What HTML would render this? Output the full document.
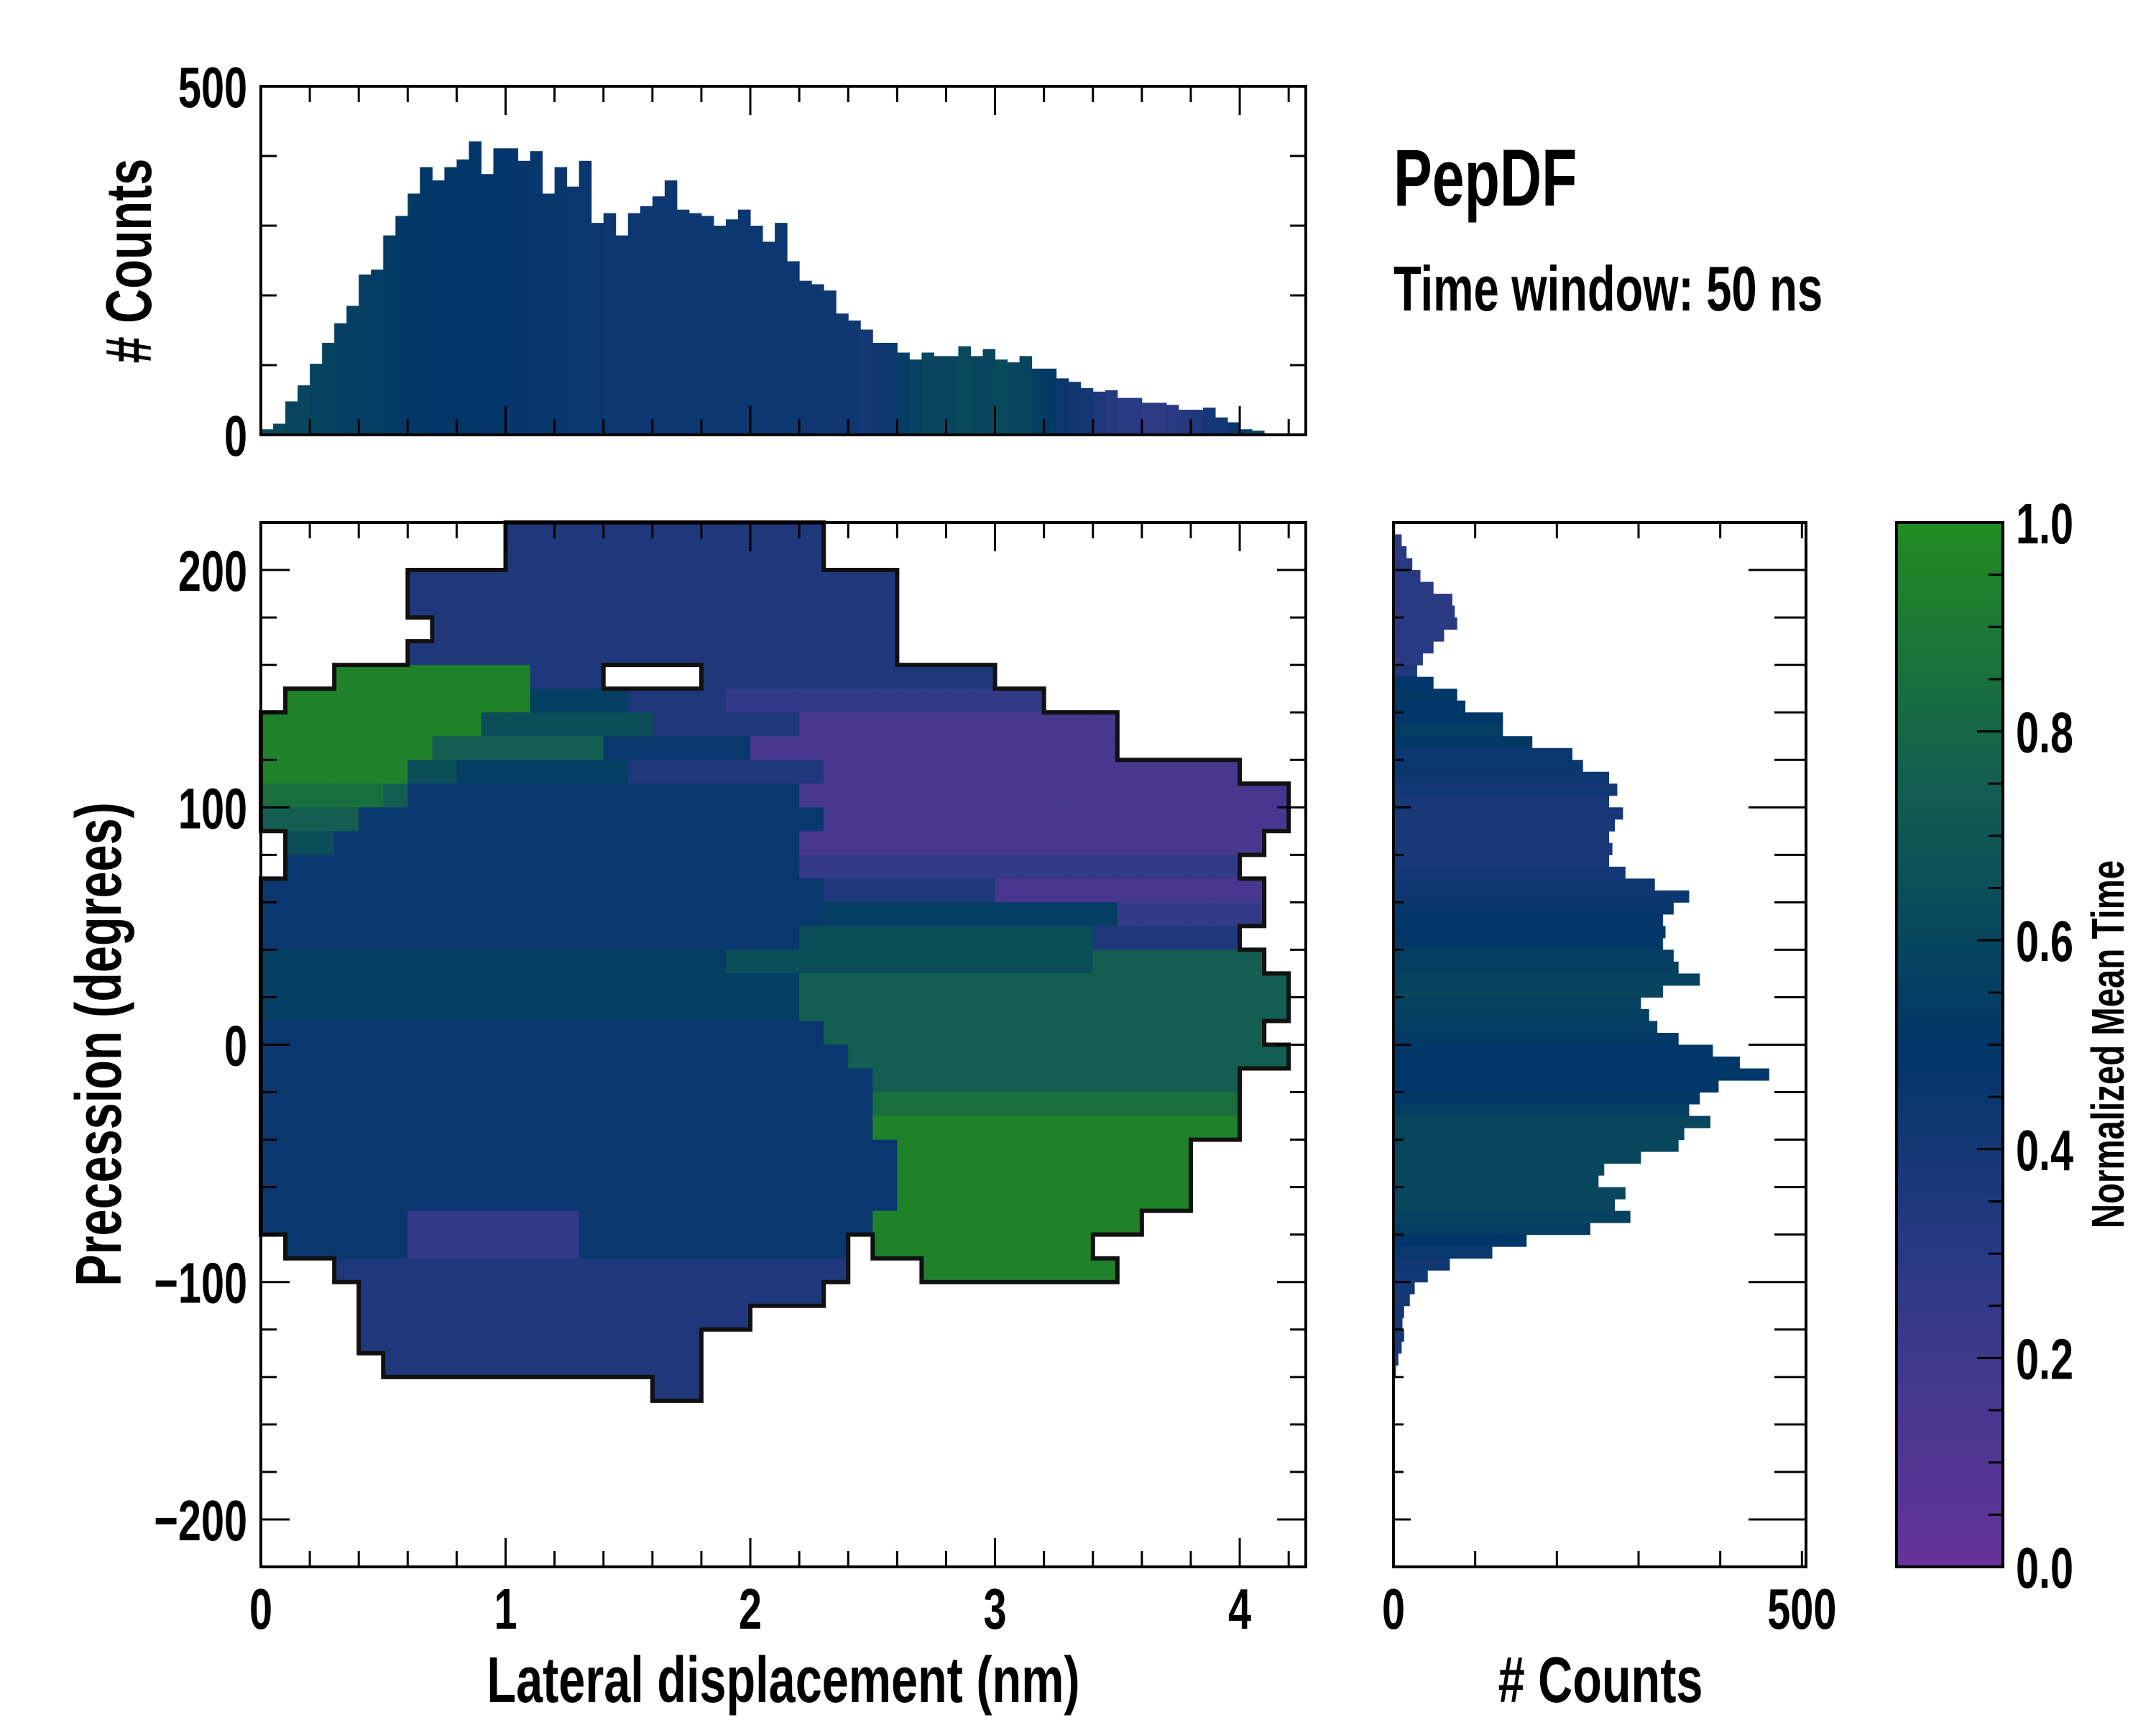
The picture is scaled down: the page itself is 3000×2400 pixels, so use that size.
<!DOCTYPE html>
<html><head><meta charset="utf-8"><style>
html,body{margin:0;padding:0;background:#fff;}
svg{display:block;}
</style></head><body>
<svg id="fig" xmlns="http://www.w3.org/2000/svg" width="3000" height="2400" viewBox="0 0 3000 2400">
<rect width="3000" height="2400" fill="#fff"/>
<g id="main"></g>
<g id="top"></g>
<g id="right"></g>
<g id="cbar"></g>
<g id="labels"></g>
</svg>
<script>
// ---------- data ----------
const heatXStep = 0.1;           // nm per column
const heatRowTops = [];          // degrees (top of each row), 220 down to -140
for (let d = 220; d >= -140; d -= 10) heatRowTops.push(d);
// digit = normalized mean time level (0-9), '.' = empty
const heatRows = [
"..........3333333333333....................",
"..........3333333333333....................",
"......33333333333333333333.................",
"......33333333333333333333.................",
".......3333333333333333333.................",
"......33333333333333333333.................",
"...99999999333....333333333333.............",
".9999999999555533332222222222222...........",
"99999999966666663333331111111111111........",
"99999997777777444444111111111111111........",
"9999996655555553333333311111111111111111...",
"888887444444444444444411111111111111111111.",
"777744444444444444444441111111111111111111.",
".6644444444444444444441111111111111111111..",
".444444444444444444444222222222222222222...",
"44444444444444444444444333333311111111111..",
"44444444444444444444444555555555555222222..",
"4444444444444444444444666666666666333333...",
"55555555555555555556666666666666667777777..",
"555555555555555555555577777777777777777777.",
"555555555555555555555577777777777777777777.",
"44444444444444444444444777777777777777777..",
"444444444444444444444444777777777777777777.",
"4444444444444444444444444777777777777777...",
"4444444444444444444444444888888888888888...",
"4444444444444444444444444999999999999999...",
"44444444444444444444444444999999999999.....",
"44444444444444444444444444999999999999.....",
"44444444444444444444444444999999999999.....",
"444444222222244444444444499999999999.......",
".44444222222244444444444.999999999.........",
"...333333333333333333333...99999999........",
"....3333333333333333333....................",
"....3333333333333333.......................",
"....33333333333333.........................",
".....3333333333333.........................",
"................33.........................",
];
// top histogram (x bins of 0.05 nm)
const topBinStarts = [0.00,0.05,0.10,0.15,0.20,0.25,0.30,0.35,0.40,0.45,0.50,0.55,0.60,0.65,0.70,0.75,0.80,0.85,0.90,0.95,1.00,1.05,1.10,1.15,1.20,1.25,1.30,1.35,1.40,1.45,1.50,1.55,1.60,1.65,1.70,1.75,1.80,1.85,1.90,1.95,2.00,2.05,2.10,2.15,2.20,2.25,2.30,2.35,2.40,2.45,2.50,2.55,2.60,2.65,2.70,2.75,2.80,2.85,2.90,2.95,3.00,3.05,3.10,3.15,3.20,3.25,3.30,3.35,3.40,3.45,3.50,3.55,3.60,3.65,3.70,3.75,3.80,3.85,3.90,3.95,4.00,4.05,4.10,4.15,4.20];
const topCounts = [8,16,48,71,102,132,160,185,230,237,286,314,346,384,365,384,395,421,374,411,411,393,407,346,384,356,393,304,318,286,318,328,342,365,323,318,314,300,309,323,300,277,304,249,221,216,207,174,164,151,132,132,118,108,118,113,113,127,113,123,108,104,113,95,95,81,76,67,62,64,53,53,46,46,43,36,36,39,25,18,8,6,2,1,1];
const topColorVals = [0.65,0.62,0.6,0.6,0.58,0.57,0.56,0.55,0.55,0.54,0.53,0.52,0.52,0.51,0.5,0.5,0.5,0.5,0.48,0.48,0.47,0.47,0.46,0.46,0.46,0.45,0.45,0.45,0.44,0.44,0.44,0.44,0.44,0.44,0.44,0.44,0.44,0.44,0.44,0.44,0.44,0.44,0.44,0.44,0.43,0.42,0.42,0.42,0.42,0.4,0.42,0.45,0.55,0.58,0.6,0.6,0.6,0.62,0.6,0.6,0.62,0.6,0.6,0.55,0.52,0.45,0.42,0.4,0.35,0.32,0.3,0.3,0.28,0.28,0.3,0.32,0.35,0.4,0.4,0.45,0.55,0.6,0.6,0.6,0.6];
// right histogram (y bins of 5 degrees, centers)
const rightBinCenters = [217.5,212.5,207.5,202.5,197.5,192.5,187.5,182.5,177.5,172.5,167.5,162.5,157.5,152.5,147.5,142.5,137.5,132.5,127.5,122.5,117.5,112.5,107.5,102.5,97.5,92.5,87.5,82.5,77.5,72.5,67.5,62.5,57.5,52.5,47.5,42.5,37.5,32.5,27.5,22.5,17.5,12.5,7.5,2.5,-2.5,-7.5,-12.5,-17.5,-22.5,-27.5,-32.5,-37.5,-42.5,-47.5,-52.5,-57.5,-62.5,-67.5,-72.5,-77.5,-82.5,-87.5,-92.5,-97.5,-102.5,-107.5,-112.5,-117.5,-122.5,-127.5,-132.5,-137.5];
const rightCounts = [2,10,16,23,33,49,72,75,78,62,49,36,29,49,78,88,134,134,170,219,232,264,274,264,281,271,264,268,264,284,320,362,343,330,333,330,343,349,375,330,303,313,323,349,391,424,460,398,375,362,388,356,349,303,258,251,284,271,290,241,163,121,69,42,26,20,13,11,13,10,6,3];
const rightColorVals = [0.3,0.3,0.3,0.3,0.3,0.3,0.3,0.3,0.3,0.3,0.3,0.3,0.35,0.5,0.52,0.5,0.5,0.55,0.52,0.45,0.45,0.42,0.4,0.38,0.38,0.38,0.38,0.38,0.38,0.4,0.42,0.44,0.46,0.48,0.5,0.52,0.55,0.56,0.58,0.6,0.58,0.56,0.55,0.52,0.5,0.5,0.5,0.5,0.52,0.55,0.6,0.6,0.6,0.6,0.6,0.6,0.6,0.6,0.58,0.55,0.5,0.45,0.42,0.4,0.4,0.4,0.4,0.4,0.4,0.4,0.4,0.4];
const mainXTicks = [0,1,2,3,4];
const mainYTicks = [200,100,0,-100,-200];
const cbarTicks = [0.0,0.2,0.4,0.6,0.8,1.0];

// ---------- geometry ----------
const NS = "http://www.w3.org/2000/svg";
const M = {x0:363, x1:1817, y0:727, y1:2180, xmin:0, xmax:4.27, ymin:-220, ymax:220};
const T = {y0:120, y1:605, cmax:500};
const R = {x0:1939, x1:2513, cmax:505};
const C = {x0:2639, x1:2787};
const sx = v => M.x0 + (v - M.xmin) / (M.xmax - M.xmin) * (M.x1 - M.x0);
const sy = v => M.y0 + (M.ymax - v) / (M.ymax - M.ymin) * (M.y1 - M.y0);
const ty = c => T.y1 - c / T.cmax * (T.y1 - T.y0);
const rx = c => R.x0 + c / R.cmax * (R.x1 - R.x0);
const cy = v => M.y1 - v * (M.y1 - M.y0);

const stops = [[0,[102,51,153]],[0.25,[51,58,136]],[0.5,[0,54,104]],[0.75,[19,94,80]],[1,[34,139,34]]];
function cmap(v){
  v = Math.max(0, Math.min(1, v));
  for (let i = 0; i < stops.length - 1; i++) {
    const a = stops[i], b = stops[i+1];
    if (v <= b[0]) {
      const t = (v - a[0]) / (b[0] - a[0]);
      const c = a[1].map((x, k) => Math.round(x + (b[1][k] - x) * t));
      return `rgb(${c[0]},${c[1]},${c[2]})`;
    }
  }
  return "rgb(34,139,34)";
}
function el(tag, attrs, parent){
  const e = document.createElementNS(NS, tag);
  for (const k in attrs) e.setAttribute(k, attrs[k]);
  parent.appendChild(e);
  return e;
}
function txt(parent, x, y, s, size, anchor, rot, name, sc){
  const t = el("text", {transform:`translate(${x},${y}) rotate(${rot||0}) scale(${sc||0.8},1)`, "font-family":"'Liberation Sans', sans-serif", "font-weight":"bold", "font-size":size, "text-anchor":anchor||"start", fill:"#000"}, parent);
  
  
  t.textContent = s;
  return t;
}
const main = document.getElementById("main");
const topG = document.getElementById("top");
const rightG = document.getElementById("right");
const cbarG = document.getElementById("cbar");
const lab = document.getElementById("labels");

// ---------- heatmap ----------
const cells = el("g", {}, main);


const filled = (r, c) => r >= 0 && r < heatRows.length && c >= 0 && c < heatRows[r].length && heatRows[r][c] !== ".";
let outline = "";
heatRows.forEach((row, r) => {
  const yTop = heatRowTops[r], yBot = yTop - 10;
  for (let c = 0; c < row.length; c++) {
    if (row[c] === ".") continue;
    const v = parseInt(row[c]) / 10 + 0.05;
    const xa = sx(c * heatXStep), xb = Math.min(sx((c + 1) * heatXStep), M.x1);
    const ya = sy(yTop), yb = sy(yBot);
    const rect = el("rect", {x:xa, y:ya, width:xb - xa + 0.6, height:yb - ya + 0.6, fill:cmap(v)}, cells);
    
    
    if (!filled(r-1, c)) outline += `M${xa},${ya}H${xb}`;
    if (!filled(r+1, c)) outline += `M${xa},${yb}H${xb}`;
    if (!filled(r, c-1)) outline += `M${xa},${ya}V${yb}`;
    if (!filled(r, c+1)) outline += `M${xb},${ya}V${yb}`;
  }
});
const ol = el("path", {d:outline, stroke:"#111", "stroke-width":6, fill:"none", "stroke-linecap":"square"}, main);



// ---------- top histogram ----------
topBinStarts.forEach((b, i) => {
  const xa = sx(b), xb = Math.min(sx(b + 0.05), M.x1);
  const bar = el("rect", {x:xa, y:ty(topCounts[i]), width:xb - xa + 0.5, height:T.y1 - ty(topCounts[i]), fill:cmap(topColorVals[i])}, topG);
  
  
});

// ---------- right histogram ----------
rightBinCenters.forEach((c, i) => {
  const ya = sy(c + 2.5), yb = sy(c - 2.5);
  const bar = el("rect", {x:R.x0, y:ya, width:rx(rightCounts[i]) - R.x0, height:yb - ya + 0.5, fill:cmap(rightColorVals[i])}, rightG);
  
  
});

// ---------- colorbar ----------
for (let i = 0; i < 200; i++) {
  const v0 = i / 200, v1 = (i + 1) / 200;
  const s = el("rect", {x:C.x0, y:cy(v1), width:C.x1 - C.x0, height:cy(v0) - cy(v1) + 0.6, fill:cmap((v0 + v1) / 2)}, cbarG);
  
  
}

// ---------- axes / ticks ----------
let tk = "";
function frame(g, x0, y0, x1, y1, name){
  const f = el("rect", {x:x0, y:y0, width:x1 - x0, height:y1 - y0, fill:"none", stroke:"#000", "stroke-width":4}, g);
  
  
}
for (let v = 0; v <= 4.21; v += 0.2) {
  const major = Math.abs(v - Math.round(v)) < 1e-6;
  const L = major ? 40 : 22, X = sx(v);
  tk += `M${X},${M.y1}v${-L}M${X},${M.y0}v${L}M${X},${T.y1}v${-L}M${X},${T.y0}v${L}`;
}
for (let v = -220; v <= 220; v += 20) {
  const major = v % 100 === 0;
  const L = major ? 40 : 22, Y = sy(v);
  tk += `M${M.x0},${Y}h${L}M${M.x1},${Y}h${-L}M${R.x0},${Y}h${major?24:14}M${R.x1},${Y}h${-(major?80:44)}`;
}
for (let c = 0; c <= 500; c += 100) {
  const Y = ty(c);
  tk += `M${M.x0},${Y}h22M${M.x1},${Y}h-22`;
}
for (let c = 0; c <= 500; c += 100) {
  const X = rx(c);
  tk += `M${X},${M.y1}v-22M${X},${M.y0}v22`;
}
for (let i = 0; i <= 20; i++) {
  const v = i / 20;
  tk += `M${C.x1},${cy(v)}h${i % 4 === 0 ? -36 : -20}`;
}
const ticks = el("path", {d:tk, stroke:"#000", "stroke-width":3, fill:"none"}, lab);


frame(lab, M.x0, M.y0, M.x1, M.y1, 'main-axes-frame');
frame(lab, M.x0, T.y0, M.x1, T.y1, 'top-axes-frame');
frame(lab, R.x0, M.y0, R.x1, M.y1, 'right-axes-frame');
frame(lab, C.x0, M.y0, C.x1, M.y1, 'colorbar-frame');

// ---------- labels ----------
const TS = 80, TSC = 0.72;
mainXTicks.forEach(v => txt(lab, sx(v), 2266, String(v), TS, "middle", 0, 'x-tick-label', TSC));
mainYTicks.forEach(v => txt(lab, 344, sy(v) + 29, v < 0 ? "\u2212" + Math.abs(v) : String(v), TS, "end", 0, 'y-tick-label', TSC));
txt(lab, 344, T.y0 + 29, "500", TS, "end", 0, 'top-y-tick-label', TSC);
txt(lab, 344, T.y1 + 29, "0", TS, "end", 0, 'top-y-tick-label', TSC);
txt(lab, rx(0), 2266, "0", TS, "middle", 0, 'right-x-tick-label', TSC);
txt(lab, rx(500), 2266, "500", TS, "middle", 0, 'right-x-tick-label', TSC);
cbarTicks.forEach(v => txt(lab, 2805, cy(v) + 29, v.toFixed(1), TS, "start", 0, 'colorbar-tick-label', TSC));
txt(lab, 1090, 2368, "Lateral displacement (nm)", 90, "middle", 0, 'x-axis-title', 0.74);
txt(lab, 168, 1453, "Precession (degrees)", 90, "middle", -90, 'y-axis-title', 0.74);
txt(lab, 210, 363, "# Counts", 90, "middle", -90, 'top-y-axis-title', 0.74);
txt(lab, 2227, 2368, "# Counts", 90, "middle", 0, 'right-x-axis-title', 0.74);
txt(lab, 2955, 1453, "Normalized Mean Time", 64, "middle", -90, 'colorbar-title', 0.74);
txt(lab, 1939, 286, "PepDF", 112, "start", 0, 'figure-title', 0.72);
txt(lab, 1939, 432, "Time window: 50 ns", 88, "start", 0, 'time-window-subtitle', 0.72);
</script>
</body></html>
